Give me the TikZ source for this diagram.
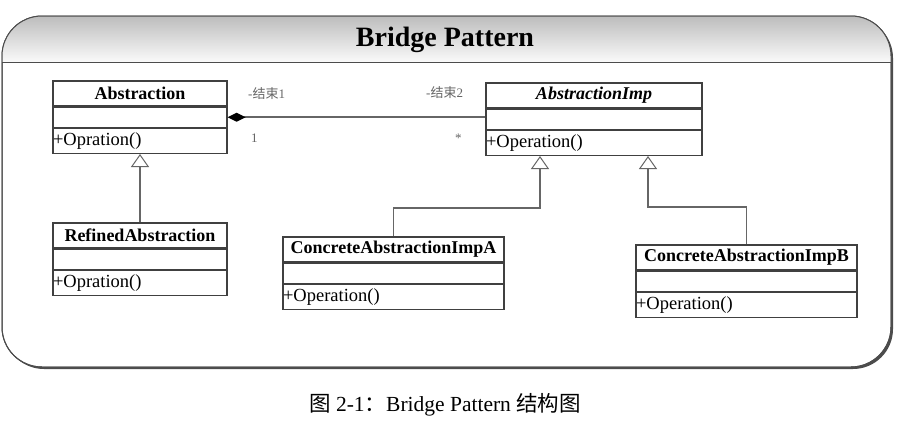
\documentclass[tikz,border=0pt]{standalone}
\usepackage{fontspec}
\setmainfont{Liberation Serif}
\newfontfamily\cjk{Noto Sans CJK SC}
\usetikzlibrary{positioning,arrows.meta}

\begin{document}
\begin{tikzpicture}[x=1pt,y=-1pt,
  part/.style={draw=black!75,line width=1.2pt,inner sep=0pt},
  cname/.style={part,minimum width=#1pt,minimum height=25pt,font=\fontsize{18}{20}\selectfont\bfseries},
  cmid/.style={part,minimum width=#1pt,minimum height=20pt},
  cop/.style={part,text width=#1pt,minimum height=25pt,align=left,font=\fontsize{18.5}{20}\selectfont},
  role/.style={inner sep=0pt,text=black!60,font=\fontsize{13}{15}\selectfont},
  link/.style={draw=black!60,line width=1.5pt},
  gen/.style={link,-{Triangle[open,length=13pt,width=18pt,fill=white,line width=1pt]}},
  comp/.style={link,{Diamond[length=18pt,width=9pt,black]}-}]

\useasboundingbox (0,0) rectangle (899,424);

% frame with header
\fill[black!70,rounded corners=40pt] (4,18) rectangle (893,369);
\draw[black!70,line width=1pt,fill=white,rounded corners=40pt] (2,16) rectangle (891,367);
\begin{scope}
\clip[rounded corners=40pt] (2,16) rectangle (891,367);
\shade[top color=black!26,bottom color=black!2] (2,16) rectangle (891,62);
\end{scope}
\draw[black!70,line width=1pt,rounded corners=40pt] (2,16) rectangle (891,367);
\draw[black!70,line width=1pt] (2,62) -- (891,62);

\node[font=\fontsize{28}{30}\selectfont\bfseries] (title) at (445,40) {Bridge Pattern};

% classes
\node[cname=174] (abs) at (140,93.5) {Abstraction};
\node[cmid=174,below=0pt of abs] (absmid) {};
\node[cop=174,below=0pt of absmid] (absop) {+Opration()};

\node[cname=174] (ref) at (140,235.5) {RefinedAbstraction};
\node[cmid=174,below=0pt of ref] (refmid) {};
\node[cop=174,below=0pt of refmid] (refop) {+Opration()};

\node[cname=216,font=\fontsize{18}{20}\selectfont\bfseries\itshape] (imp) at (594,95.5) {AbstractionImp};
\node[cmid=216,below=0pt of imp] (impmid) {};
\node[cop=216,below=0pt of impmid] (impop) {+Operation()};

\node[cname=221] (cona) at (393.5,249.5) {ConcreteAbstractionImpA};
\node[cmid=221,below=0pt of cona] (conamid) {};
\node[cop=221,below=0pt of conamid] (conaop) {+Operation()};

\node[cname=221] (conb) at (746.5,257.5) {ConcreteAbstractionImpB};
\node[cmid=221,below=0pt of conb] (conbmid) {};
\node[cop=221,below=0pt of conbmid] (conbop) {+Operation()};

% relations
\draw[comp] (absmid.east) -- (absmid.east -| impmid.west);
\draw[gen] (ref.north) -- (absop.south);

\coordinate (ja) at (540,208);
\coordinate (jb) at (648,207);
\draw[gen] (cona.north) |- (ja) -- (ja |- impop.south);
\draw[gen] (conb.north) |- (jb) -- (jb |- impop.south);

\node[role,anchor=west] (end1) at (248,94) {-{\cjk 结束}1};
\node[role,anchor=west] (mult1) at (251,138) {1};
\node[role,anchor=west] (end2) at (426,93) {-{\cjk 结束}2};
\node[role,anchor=west] (mult2) at (455,138) {*};

\node[font=\fontsize{21.5}{24}\selectfont] (caption) at (445,405) {{\cjk 图} 2-1{\cjk ：}Bridge Pattern {\cjk 结构图}};
\end{tikzpicture}
\end{document}
